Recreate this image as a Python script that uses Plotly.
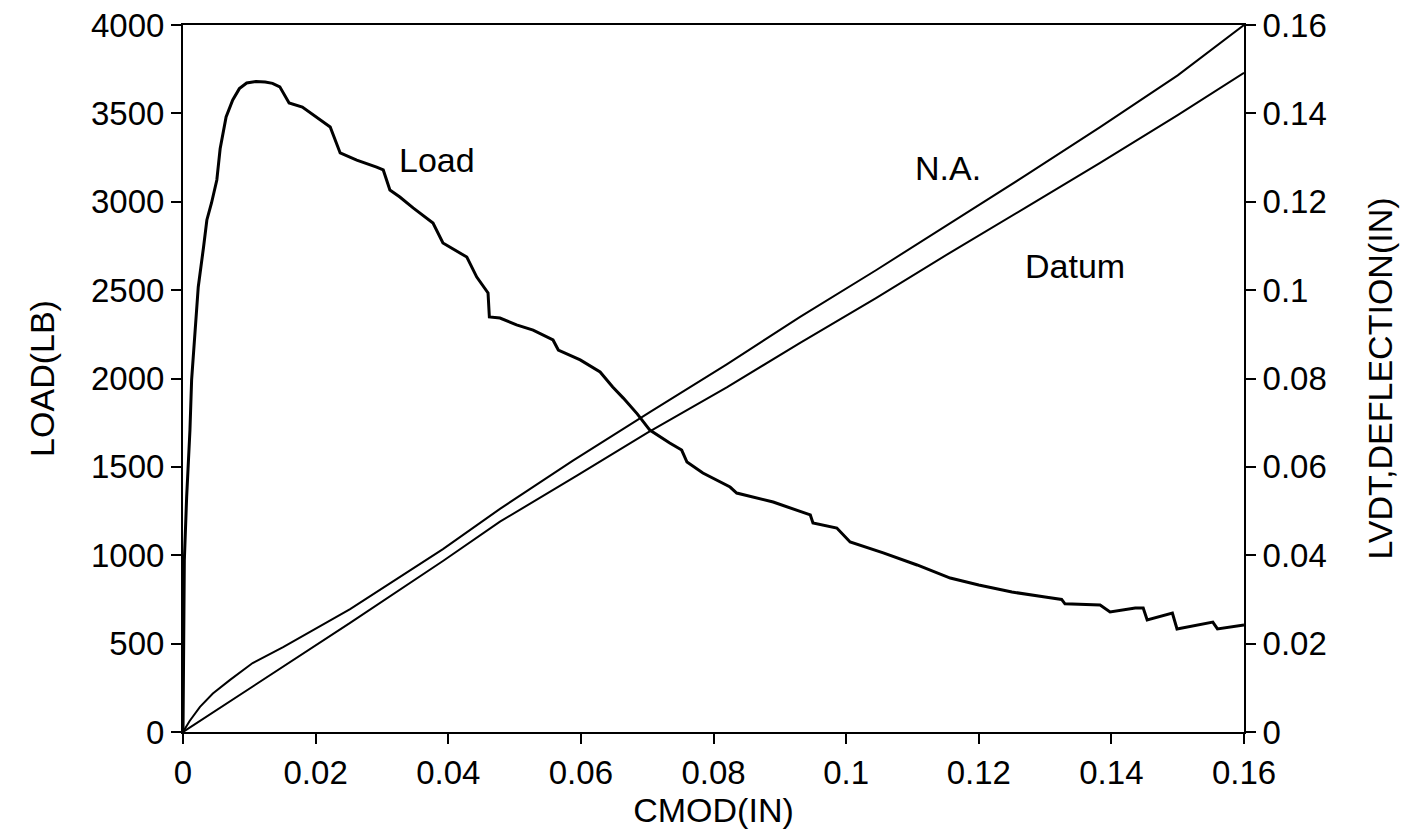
import plotly.graph_objects as go

# CMOD (in) vs Load (lb)
load_x = [0, 0.0001, 0.0002, 0.00055, 0.00105, 0.0013, 0.0018, 0.0023, 0.0031, 0.0036,
          0.0043, 0.0051, 0.0056, 0.0065, 0.0075, 0.0085, 0.0096, 0.011, 0.0124, 0.0135,
          0.0146, 0.016, 0.018, 0.020, 0.0222, 0.0237, 0.0262, 0.0292, 0.0302, 0.0312,
          0.0327, 0.0347, 0.0377, 0.0392, 0.0428, 0.0443, 0.046, 0.0462, 0.0478, 0.0503,
          0.0528, 0.0558, 0.0566, 0.0599, 0.0629, 0.0648, 0.0664, 0.0685, 0.0704, 0.0734,
          0.0752, 0.076, 0.0784, 0.0825, 0.0835, 0.089, 0.0946, 0.095, 0.0986, 0.1006,
          0.1056, 0.1107, 0.1157, 0.12, 0.125, 0.13, 0.1325, 0.133, 0.1383, 0.1398,
          0.1436, 0.1448, 0.1454, 0.1492, 0.1499, 0.1553, 0.156, 0.16]
load_y = [0, 600, 970, 1330, 1709, 1992, 2275, 2518, 2744, 2897,
          2993, 3123, 3300, 3480, 3576, 3640, 3672, 3680, 3677, 3670,
          3650, 3559, 3536, 3480, 3423, 3276, 3236, 3196, 3180, 3066,
          3027, 2965, 2880, 2767, 2687, 2574, 2484, 2348, 2342, 2303,
          2274, 2218, 2161, 2105, 2037, 1952, 1889, 1800, 1708, 1635,
          1595, 1527, 1465, 1386, 1352, 1301, 1228, 1182, 1154, 1075,
          1013, 945, 871, 832, 792, 764, 750, 725, 718, 679,
          701, 701, 634, 673, 583, 622, 583, 605]

# CMOD (in) vs LVDT deflection (in), N.A.
na_x = [0, 0.001, 0.00256, 0.0045, 0.0071, 0.0105, 0.0151, 0.0252, 0.0392, 0.0478,
        0.0588, 0.0704, 0.082, 0.093, 0.1045, 0.1157, 0.127, 0.1383, 0.15, 0.16]
na_y = [0, 0.0025, 0.0057, 0.0087, 0.0118, 0.0156, 0.0192, 0.0278, 0.0414, 0.0505,
        0.0614, 0.0724, 0.0832, 0.0939, 0.1045, 0.1152, 0.1259, 0.1369, 0.1486, 0.16]

# CMOD (in) vs LVDT deflection (in), Datum
datum_x = [0, 0.0051, 0.0151, 0.0252, 0.0392, 0.0478, 0.0594, 0.070, 0.082, 0.093,
           0.1045, 0.1157, 0.127, 0.1383, 0.15, 0.16]
datum_y = [0, 0.0050, 0.0150, 0.0247, 0.0387, 0.0476, 0.0580, 0.0677, 0.0780, 0.0880,
           0.0982, 0.1085, 0.1186, 0.1288, 0.1396, 0.1492]

x_ticks = [0, 0.02, 0.04, 0.06, 0.08, 0.1, 0.12, 0.14, 0.16]
x_tick_text = ["0", "0.02", "0.04", "0.06", "0.08", "0.1", "0.12", "0.14", "0.16"]
y_ticks = [0, 500, 1000, 1500, 2000, 2500, 3000, 3500, 4000]
y2_ticks = [0, 0.02, 0.04, 0.06, 0.08, 0.1, 0.12, 0.14, 0.16]
y2_tick_text = ["0", "0.02", "0.04", "0.06", "0.08", "0.1", "0.12", "0.14", "0.16"]

FONT = "Liberation Sans, Arial, sans-serif"

fig = go.Figure()
fig.add_trace(go.Scatter(x=load_x, y=load_y, mode="lines",
                         line=dict(color="black", width=3), showlegend=False))
fig.add_trace(go.Scatter(x=na_x, y=na_y, mode="lines", yaxis="y2",
                         line=dict(color="black", width=2), showlegend=False))
fig.add_trace(go.Scatter(x=datum_x, y=datum_y, mode="lines", yaxis="y2",
                         line=dict(color="black", width=2), showlegend=False))

axis_common = dict(showgrid=False, zeroline=False, showline=True, linecolor="black",
                   linewidth=2, ticks="outside", ticklen=10, tickwidth=2,
                   automargin=False,
                   tickcolor="black", tickfont=dict(family=FONT, size=33, color="black"))

fig.update_layout(
    template="none",
    width=1402, height=837,
    margin=dict(l=183, r=158, t=25, b=105),
    paper_bgcolor="white", plot_bgcolor="white",
    font=dict(family=FONT, color="black"),
    xaxis=dict(range=[0, 0.16], tickvals=x_ticks, ticktext=x_tick_text, mirror=True,
               ticklabelstandoff=0,
               title=dict(text="CMOD(IN)", font=dict(family=FONT, size=34), standoff=0),
               **axis_common),
    yaxis=dict(range=[0, 4000], tickvals=y_ticks,
               title=dict(text="LOAD(LB)", font=dict(family=FONT, size=34), standoff=26),
               **axis_common),
    yaxis2=dict(range=[0, 0.16], tickvals=y2_ticks, ticktext=y2_tick_text,
                overlaying="y", side="right",
                title=dict(text="LVDT,DEFLECTION(IN)", font=dict(family=FONT, size=34),
                           standoff=42),
                **axis_common),
    annotations=[
        dict(x=0.0383, y=3236, xref="x", yref="y", text="Load", showarrow=False,
             font=dict(family=FONT, size=34, color="black")),
        dict(x=0.1154, y=0.1276, xref="x", yref="y2", text="N.A.", showarrow=False,
             font=dict(family=FONT, size=34, color="black")),
        dict(x=0.1345, y=0.1055, xref="x", yref="y2", text="Datum", showarrow=False,
             font=dict(family=FONT, size=34, color="black")),
    ],
)

fig.write_html("out.html")
